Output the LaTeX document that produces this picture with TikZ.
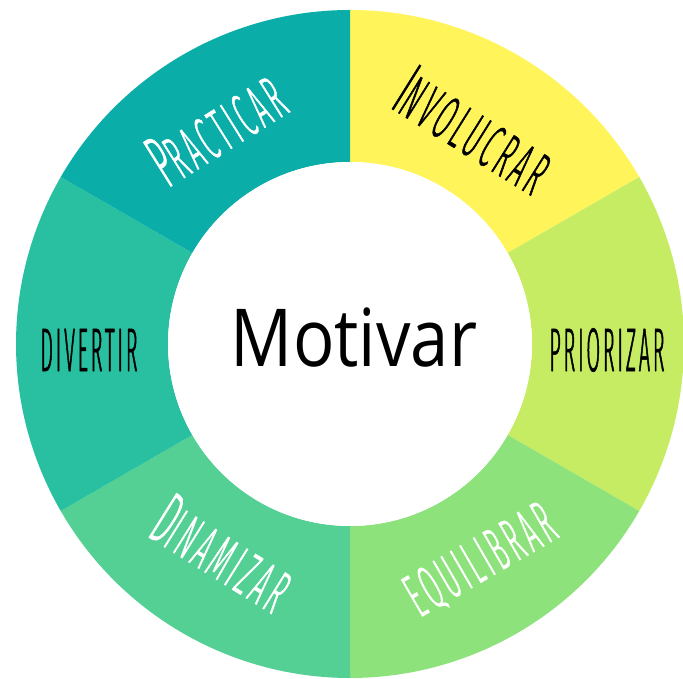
\documentclass[tikz,border=0pt]{standalone}
\usepackage{fontspec}
\usetikzlibrary{calc}
\setmainfont{Open Sans}
\IfFontExistsTF{Fira Sans Light}
  {\newfontfamily\handfont{Fira Sans Light}[FakeStretch=0.32,LetterSpace=4.5,FakeBold=0.8]
   \newfontfamily\handwide{Fira Sans Light}[FakeStretch=0.38,LetterSpace=7,FakeBold=0.8]}
  {\newfontfamily\handfont{Fira Sans}[FakeStretch=0.32,LetterSpace=4.5]
   \newfontfamily\handwide{Fira Sans}[FakeStretch=0.38,LetterSpace=7]}
\newfontfamily\centerfont{Open Sans}[FakeStretch=0.86]
\definecolor{cPract}{RGB}{10,173,168}
\definecolor{cInvol}{RGB}{255,245,90}
\definecolor{cPrior}{RGB}{197,236,98}
\definecolor{cEquil}{RGB}{142,226,124}
\definecolor{cDinam}{RGB}{84,208,148}
\definecolor{cDivert}{RGB}{40,192,160}
\tikzset{
  lbl/.style={inner sep=0pt, font=\handfont\fontsize{62}{62}\selectfont},
  lblw/.style={inner sep=0pt, font=\handwide\fontsize{62}{62}\selectfont}
}
\newcommand{\bigL}[1]{{\fontsize{76}{76}\selectfont #1}}
\begin{document}
\begin{tikzpicture}[x=1pt,y=1pt]
\useasboundingbox (0,0) rectangle (683,679);
\fill[white] (0,0) rectangle (683,679);
\coordinate (c) at (350,335);
\def\Ro{334}
\def\Ri{182}
\foreach \a/\b/\col in {30/90/cInvol, -30/30/cPrior, -90/-30/cEquil, -150/-90/cDinam, 150/210/cDivert, 90/150/cPract}{
  \fill[\col] ($(c)+(\a:\Ri)$) arc[start angle=\a, end angle=\b, radius=\Ri]
     -- ($(c)+(\b:\Ro)$) arc[start angle=\b, end angle=\a, radius=\Ro] -- cycle;
}
\node[circle, fill=white, minimum size=364pt, inner sep=0pt] (hub) at (c) {};
\node[font=\centerfont\fontsize{80}{80}\selectfont, anchor=base] (mot) at (354,312) {Motivar};
\node[lblw, text=white, rotate=32] (pract) at (216,551) {\bigL{P}RACTICAR};
\node[lblw, text=black, rotate=-32] (invol) at (474,549) {\bigL{I}NVOLUCRAR};
\node[lbl, text=black] (prior) at (607,329) {PRIORIZAR};
\node[lblw, text=white, rotate=30] (equil) at (481,118) {EQUILIBRAR};
\node[lblw, text=white, rotate=-32] (dinam) at (223,126) {\bigL{D}INAMIZAR};
\node[lbl, text=black] (divert) at (89,329) {DIVERTIR};
\end{tikzpicture}
\end{document}
